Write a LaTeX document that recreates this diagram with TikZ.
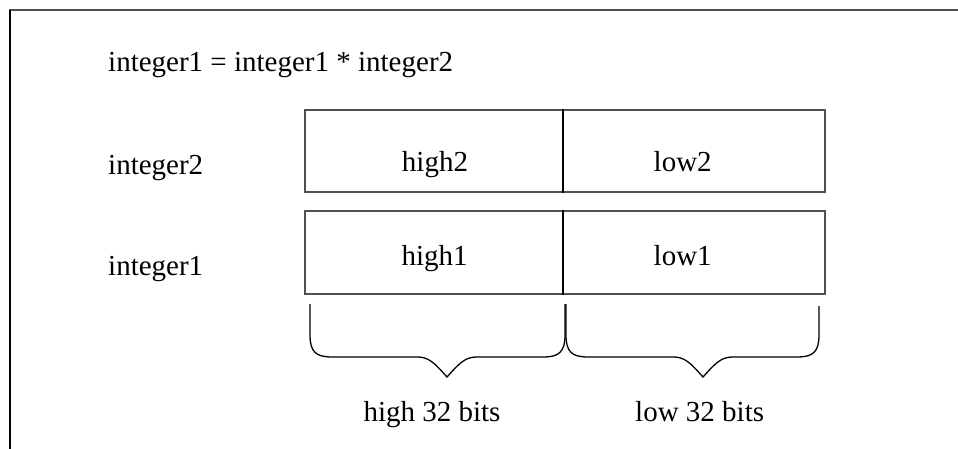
\documentclass[tikz,border=0pt]{standalone}
\usepackage{fontspec}
\setmainfont{Liberation Serif}
\definecolor{boxgray}{HTML}{505050}
\begin{document}
\begin{tikzpicture}[x=1pt,y=-1pt,
  txt/.style={inner sep=0pt,font=\fontsize{29}{34}\selectfont},
  lbl/.style={txt,anchor=base west},
  ctr/.style={txt,anchor=base},
  regbox/.style={draw=boxgray,line width=2pt,minimum width=520.3pt,minimum height=82pt,inner sep=0pt},
  divline/.style={black,line width=1.2pt},
  bracestyle/.style={black,line width=1.3pt},
  topline/.style={boxgray,line width=2pt},
  sideline/.style={black,line width=1.6pt}]
\useasboundingbox (0,0) rectangle (958,449);
% frame
\draw[topline] (9,10) -- (958,10);
\draw[sideline] (10,10) -- (10,449);
% texts
\node[lbl] (title) at (108,72) {integer1 = integer1 * integer2};
\node[lbl] (lint2) at (108,174.3) {integer2};
\node[lbl] (lint1) at (108,275.7) {integer1};
% boxes
\node[regbox] (box2) at (564.85,150.75) {};
\node[regbox] (box1) at (564.85,252.5) {};
\coordinate (d) at (563,0);
\draw[divline] (box2.north -| d) -- (box2.south -| d);
\draw[divline] (box1.north -| d) -- (box1.south -| d);
\node[ctr] (high2) at (435,171.5) {high2};
\node[ctr] (low2) at (682.7,171.5) {low2};
\node[ctr] (high1) at (434.7,265.7) {high1};
\node[ctr] (low1) at (682.7,265.7) {low1};
% braces
\draw[bracestyle] (310,304) -- (310,335) .. controls (310,352) and (316,357) .. (332,357)
  -- (418,357) .. controls (430,357) and (437,366) .. (447,377)
  .. controls (457,366) and (464,357) .. (476,357)
  -- (543,357) .. controls (559,357) and (565,352) .. (565,335) -- (565,304);
\draw[bracestyle] (566,304) -- (566,335) .. controls (566,352) and (572,357) .. (588,357)
  -- (674,357) .. controls (686,357) and (693,366) .. (703,377)
  .. controls (713,366) and (720,357) .. (732,357)
  -- (797,357) .. controls (813,357) and (819,352) .. (819,335) -- (819,306);
\node[lbl] (h32) at (363.3,421.7) {high 32 bits};
\node[lbl] (l32) at (635,421.7) {low 32 bits};
\end{tikzpicture}
\end{document}
